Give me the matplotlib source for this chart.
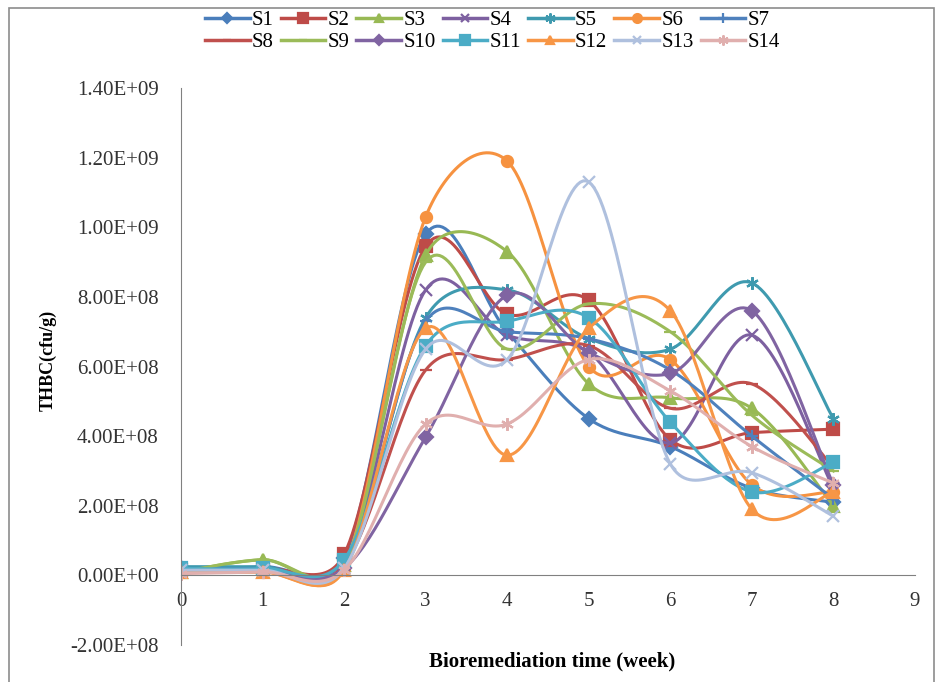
import matplotlib.pyplot as plt
import numpy as np
from matplotlib.patches import Rectangle

weeks = [0, 1, 2, 3, 4, 5, 6, 7, 8]
labels = ["S1", "S2", "S3", "S4", "S5", "S6", "S7",
          "S8", "S9", "S10", "S11", "S12", "S13", "S14"]

s1 = [2.0e7, 2.5e7, 5.0e7, 9.8e8, 7.0e8, 4.5e8, 3.7e8, 2.5e8, 2.1e8]
s2 = [1.5e7, 2.0e7, 6.0e7, 9.45e8, 7.5e8, 7.9e8, 3.9e8, 4.1e8, 4.2e8]
s3 = [1.0e7, 4.5e7, 3.0e7, 9.2e8, 9.3e8, 5.5e8, 5.1e8, 4.8e8, 2.0e8]
s4 = [1.0e7, 1.5e7, 2.0e7, 8.2e8, 6.9e8, 6.4e8, 3.8e8, 6.9e8, 2.5e8]
s5 = [2.5e7, 2.5e7, 3.0e7, 7.4e8, 8.2e8, 6.8e8, 6.5e8, 8.4e8, 4.5e8]
s6 = [1.0e7, 1.0e7, 2.0e7, 1.03e9, 1.19e9, 6.0e8, 6.2e8, 2.6e8, 2.4e8]
s7 = [2.0e7, 2.0e7, 3.0e7, 7.3e8, 7.0e8, 6.8e8, 5.9e8, 4.0e8, 2.2e8]
s8 = [1.0e7, 1.5e7, 3.0e7, 5.9e8, 6.2e8, 6.6e8, 4.8e8, 5.5e8, 3.1e8]
s9 = [1.0e7, 4.5e7, 2.5e7, 9.0e8, 6.5e8, 7.8e8, 7.0e8, 4.6e8, 3.0e8]
s10 = [1.0e7, 1.5e7, 2.0e7, 3.97e8, 8.05e8, 6.4e8, 5.8e8, 7.6e8, 2.6e8]
s11 = [2.0e7, 2.0e7, 4.5e7, 6.6e8, 7.3e8, 7.4e8, 4.4e8, 2.4e8, 3.25e8]
s12 = [1.0e7, 1.0e7, 1.5e7, 7.1e8, 3.45e8, 7.1e8, 7.6e8, 1.9e8, 2.4e8]
s13 = [1.5e7, 1.5e7, 2.0e7, 6.5e8, 6.2e8, 1.13e9, 3.2e8, 2.95e8, 1.7e8]
s14 = [5.0e6, 1.0e7, 1.5e7, 4.35e8, 4.35e8, 6.2e8, 5.3e8, 3.7e8, 2.65e8]
series = [s1, s2, s3, s4, s5, s6, s7, s8, s9, s10, s11, s12, s13, s14]

colors = ["#4A7EBB", "#BE4B48", "#98B954", "#7D60A0", "#3F9AAF", "#F69240", "#4F81BD",
          "#C0504D", "#9BBB59", "#8064A2", "#4BACC6", "#F79646", "#AFC0DE", "#E0AFAE"]
markers = ["D", "s", "^", "x", (6, 2, 0), "o", "+",
           "_", "_", "D", "s", "^", "x", (6, 2, 0)]
msizes = [7, 9, 8, 8, 9, 8, 9, 8, 8, 7, 9, 8, 8, 9]

# масштаб (пикселей на единицу) для сглаживания в экранных координатах
SX, SY = 81.6, 3.48e-7


# Сглаживание как в Excel: Безье по Catmull-Rom, плечи ограничены длиной отрезка
def smooth(x, y, n=30):
    P = np.column_stack([np.asarray(x, float) * SX, np.asarray(y, float) * SY])
    Q = np.vstack([P[:1], P, P[-1:]])
    t = np.linspace(0, 1, n)[:, None]
    out = []
    for i in range(1, len(P)):
        p0, p3 = Q[i], Q[i + 1]
        seg = np.hypot(*(p3 - p0))
        a1 = (p3 - Q[i - 1]) / 6
        a2 = (Q[i + 2] - p0) / 6
        for a in (a1, a2):
            L = np.hypot(*a)
            if L > 0.5 * seg:
                a *= 0.5 * seg / L
        c1 = p0 + a1
        c2 = p3 - a2
        out.append(((1 - t) ** 3) * p0 + 3 * ((1 - t) ** 2) * t * c1 + 3 * (1 - t) * t ** 2 * c2 + t ** 3 * p3)
    pts = np.vstack(out)
    return pts[:, 0] / SX, pts[:, 1] / SY


plt.rcParams['font.family'] = ['Liberation Serif', 'DejaVu Serif']
fig = plt.figure(figsize=(9.38, 6.82), dpi=100)
ax = fig.add_axes([181 / 938, 37 / 682, (915 - 181) / 938, (645 - 88) / 682])

handles = {}
for vals, lab, c, m, ms in zip(series, labels, colors, markers, msizes):
    sx, sy = smooth(weeks, vals)
    ax.plot(sx, sy, color=c, lw=2.2)
    ax.plot(weeks, vals, ls="none", marker=m, color=c, ms=ms, mew=1.6)
    h, = ax.plot([], [], color=c, lw=2.5, marker=m, ms=ms, mew=1.6, label=lab)
    handles[lab] = h

ax.set_xlim(0, 9)
ax.set_ylim(-2e8, 1.4e9)
ax.set_xticks(range(0, 10))
yt = np.arange(-2e8, 1.41e9, 2e8)
ax.set_yticks(yt)
ax.set_yticklabels(["%.2fE+%02d" % (v / 10 ** int(np.floor(np.log10(abs(v)))), int(np.floor(np.log10(abs(v)))))
                    if abs(v) > 1 else "0.00E+00" for v in yt])
ax.spines["top"].set_visible(False)
ax.spines["right"].set_visible(False)
ax.spines["bottom"].set_position(("data", 0))
for s in ["left", "bottom"]:
    ax.spines[s].set_color("#808080")
ax.tick_params(axis="both", length=0, labelsize=15, colors="#333333")
ax.tick_params(axis="y", pad=16)
ax.tick_params(axis="x", pad=12)

ax.set_xlabel("Bioremediation time (week)", fontsize=15, fontweight="bold")
ax.xaxis.set_label_coords(0.505, -0.012)
ax.set_ylabel("THBC(cfu/g)", fontsize=13, fontweight="bold")
ax.yaxis.set_label_coords(-0.17, 0.51)

# порядок легенды по строкам: 7 столбцов по 2 строки
order = []
for i in range(7):
    order += [labels[i], labels[i + 7]]
fig.legend(handles=[handles[k] for k in order], ncol=7, loc="upper left",
           bbox_to_anchor=(186 / 938, 1 + 8 / 682),
           frameon=False, fontsize=15, handlelength=2.15, handletextpad=0.1,
           columnspacing=0.34, labelspacing=0.12, markerscale=0.8)

fig.patches.append(Rectangle((9 / 938, -0.05), (934 - 9) / 938, 1.05 - 8 / 682,
                             transform=fig.transFigure, fill=False, edgecolor="#8c8c8c", lw=1.2))

fig.savefig("out.png", dpi=100)
